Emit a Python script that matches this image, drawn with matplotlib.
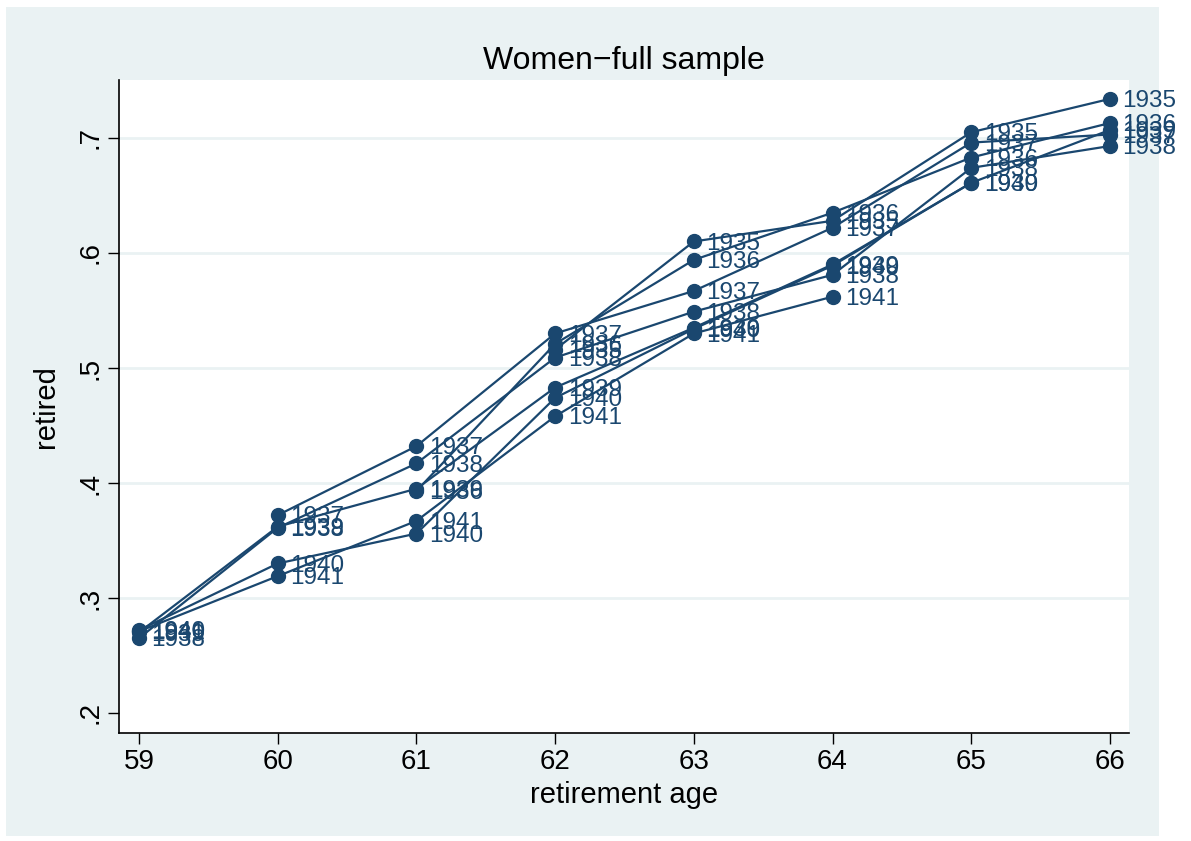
import matplotlib.pyplot as plt
from matplotlib.patches import Rectangle

plt.rcParams['font.family'] = ['Liberation Sans', 'DejaVu Sans']

# retired share by birth cohort and age
ages = [59, 60, 61, 62, 63, 64, 65, 66]
cohorts = [1935, 1936, 1937, 1938, 1939, 1940, 1941]
ages_by_cohort = {
    1935: [62, 63, 64, 65, 66],
    1936: [61, 62, 63, 64, 65, 66],
    1937: [60, 61, 62, 63, 64, 65, 66],
    1938: [59, 60, 61, 62, 63, 64, 65, 66],
    1939: [59, 60, 61, 62, 63, 64, 65, 66],
    1940: [59, 60, 61, 62, 63, 64, 65],
    1941: [59, 60, 61, 62, 63, 64],
}
retired_by_cohort = {
    1935: [0.516, 0.610, 0.628, 0.705, 0.734],
    1936: [0.393, 0.521, 0.594, 0.635, 0.683, 0.713],
    1937: [0.372, 0.432, 0.530, 0.567, 0.622, 0.696, 0.703],
    1938: [0.265, 0.361, 0.417, 0.509, 0.549, 0.581, 0.674, 0.693],
    1939: [0.270, 0.362, 0.395, 0.483, 0.535, 0.590, 0.661, 0.707],
    1940: [0.272, 0.330, 0.356, 0.474, 0.534, 0.589, 0.661],
    1941: [0.271, 0.319, 0.367, 0.458, 0.530, 0.562],
}
yticks = [0.2, 0.3, 0.4, 0.5, 0.6, 0.7]
yticklabels = ['.2', '.3', '.4', '.5', '.6', '.7']

navy = '#1a476f'
bg = '#eaf2f3'

fig = plt.figure(figsize=(11.91, 8.41), dpi=100)
fig.patch.set_facecolor('white')
# light blue graph region (Stata s2color look)
band = Rectangle((6 / 1191, 5 / 841), 1153 / 1191, 829 / 841,
                 transform=fig.transFigure, facecolor=bg, edgecolor='none')
band.set_zorder(-10)
fig.add_artist(band)

ax = fig.add_axes([119 / 1191, 1 - 733 / 841, 1010 / 1191, 653 / 841])
ax.set_zorder(1)
ax.set_facecolor('white')

for c in cohorts:
    x = ages_by_cohort[c]
    y = retired_by_cohort[c]
    ax.plot(x, y, color=navy, lw=1.6, marker='o', markersize=10, zorder=3)
    for xi, yi in zip(x, y):
        ax.annotate(str(c), (xi, yi), xytext=(9, -1.5), textcoords='offset points',
                    va='center', ha='left', fontsize=17.5, color=navy, zorder=4,
                    annotation_clip=False)

ax.set_xlim(58.856, 66.137)
ax.set_ylim(0.1826, 0.7504)
ax.set_xticks(ages)
ax.set_yticks(yticks)
ax.set_yticklabels(yticklabels, rotation=90, va='center')
ax.tick_params(labelsize=20, length=8, width=1, color='black')
for yv in yticks[1:]:
    ax.axhline(yv, color=bg, lw=2, zorder=1)

for s in ['top', 'right']:
    ax.spines[s].set_visible(False)
for s in ['left', 'bottom']:
    ax.spines[s].set_linewidth(1.2)

ax.set_xlabel('retirement age', fontsize=21, labelpad=4)
ax.set_ylabel('retired', fontsize=21, labelpad=12)
ax.set_title('Women\u2212full sample', fontsize=23, pad=8)

fig.savefig('out.png', dpi=100)
